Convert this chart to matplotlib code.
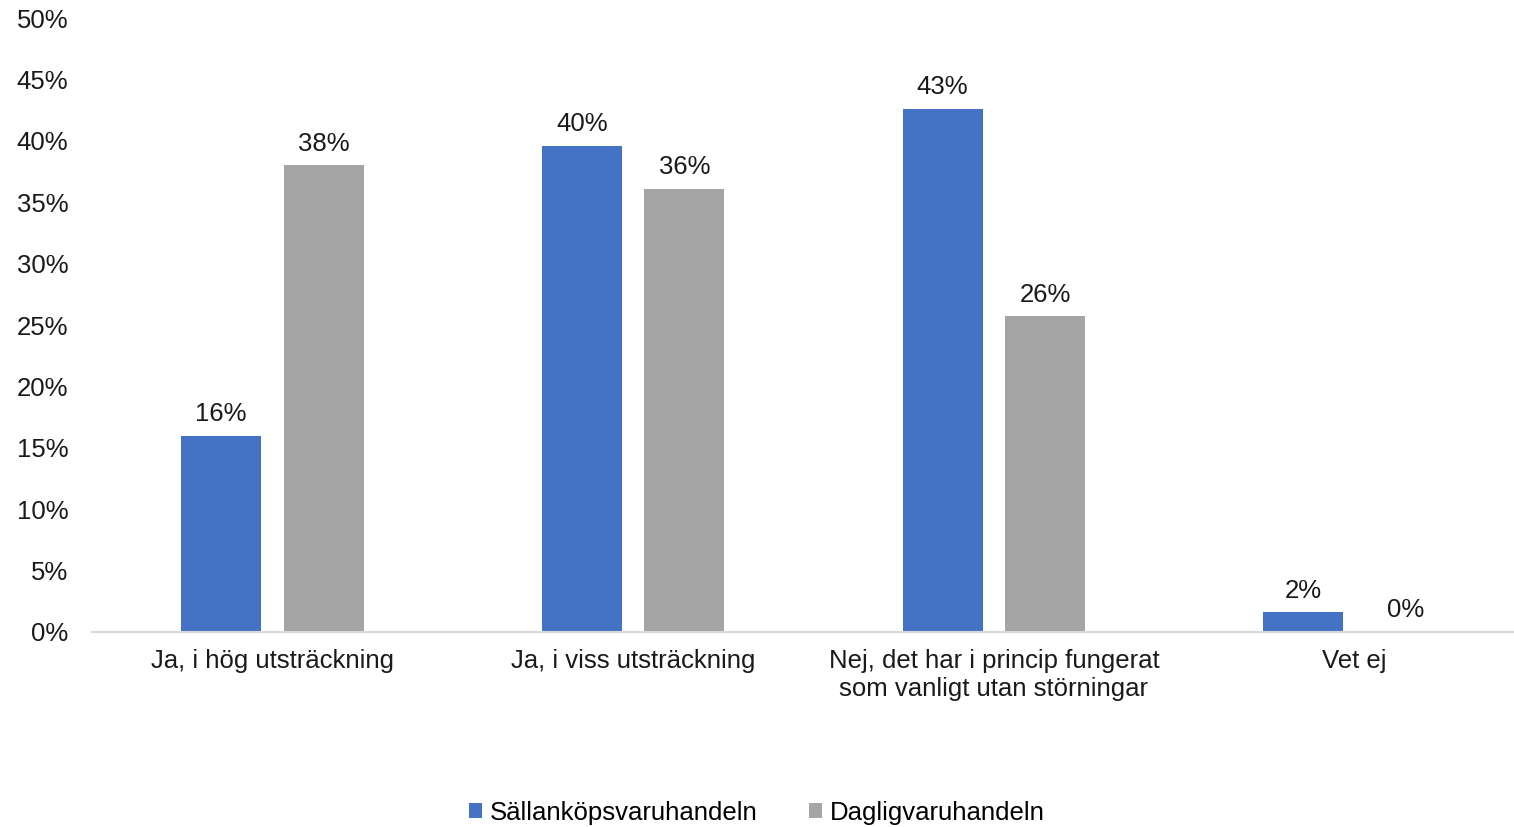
import matplotlib
matplotlib.use("Agg")
import matplotlib.pyplot as plt
import matplotlib.patches as mpatches
import numpy as np

# ── data ────────────────────────────────────────────────────────────────────
categories = [
    "Ja, i hög utsträckning",
    "Ja, i viss utsträckning",
    "Nej, det har i princip fungerat\nsom vanligt utan störningar",
    "Vet ej",
]
series_names = ["Sällanköpsvaruhandeln", "Dagligvaruhandeln"]
sallankop = [16.0, 39.6, 42.6, 1.6]
dagligvaru = [38.0, 36.1, 25.7, 0.0]
y_ticks = [0, 5, 10, 15, 20, 25, 30, 35, 40, 45, 50]

BLUE = "#4472C4"
GREY = "#A5A5A5"
FS = 18.5

plt.rcParams["font.family"] = ["Liberation Sans", "DejaVu Sans"]

fig = plt.figure(figsize=(15.14, 8.27), dpi=100)
ax = fig.add_axes([0.0608, 0.2358, 0.953, 0.7424])

x = np.arange(len(categories))
bar_w = 0.222
off = 0.142

bars1 = ax.bar(x - off, sallankop, bar_w, color=BLUE, label=series_names[0])
bars2 = ax.bar(x + off, dagligvaru, bar_w, color=GREY, label=series_names[1])

for bars, vals in ((bars1, sallankop), (bars2, dagligvaru)):
    for bar, val in zip(bars, vals):
        ax.annotate(f"{val:.0f}%",
                    (bar.get_x() + bar.get_width() / 2, bar.get_height()),
                    xytext=(0, 7), textcoords="offset points",
                    ha="center", va="bottom", fontsize=FS, color="#1a1a1a")

ax.set_xlim(-0.5, 3.5)
ax.set_ylim(0, 50)
ax.set_yticks(y_ticks)
ax.set_yticklabels([f"{t}%" for t in y_ticks])
ax.set_xticks(x)
ax.set_xticklabels(categories, linespacing=1.25)
ax.tick_params(axis="y", length=0, pad=17, labelsize=FS, labelcolor="#1a1a1a")
ax.tick_params(axis="x", length=0, pad=12, labelsize=FS, labelcolor="#1a1a1a")

for s in ("top", "right", "left"):
    ax.spines[s].set_visible(False)
ax.spines["bottom"].set_color("#D9D9D9")
ax.spines["bottom"].set_linewidth(1.5)

handles = [
    mpatches.Patch(facecolor=BLUE, label=series_names[0]),
    mpatches.Patch(facecolor=GREY, label=series_names[1]),
]
fig.legend(handles=handles, loc="center", bbox_to_anchor=(0.5, 0.017),
           ncol=2, frameon=False, fontsize=FS, handlelength=0.5,
           handleheight=0.5, handletextpad=0.3, columnspacing=2.0)

fig.savefig("out.png", dpi=100)
